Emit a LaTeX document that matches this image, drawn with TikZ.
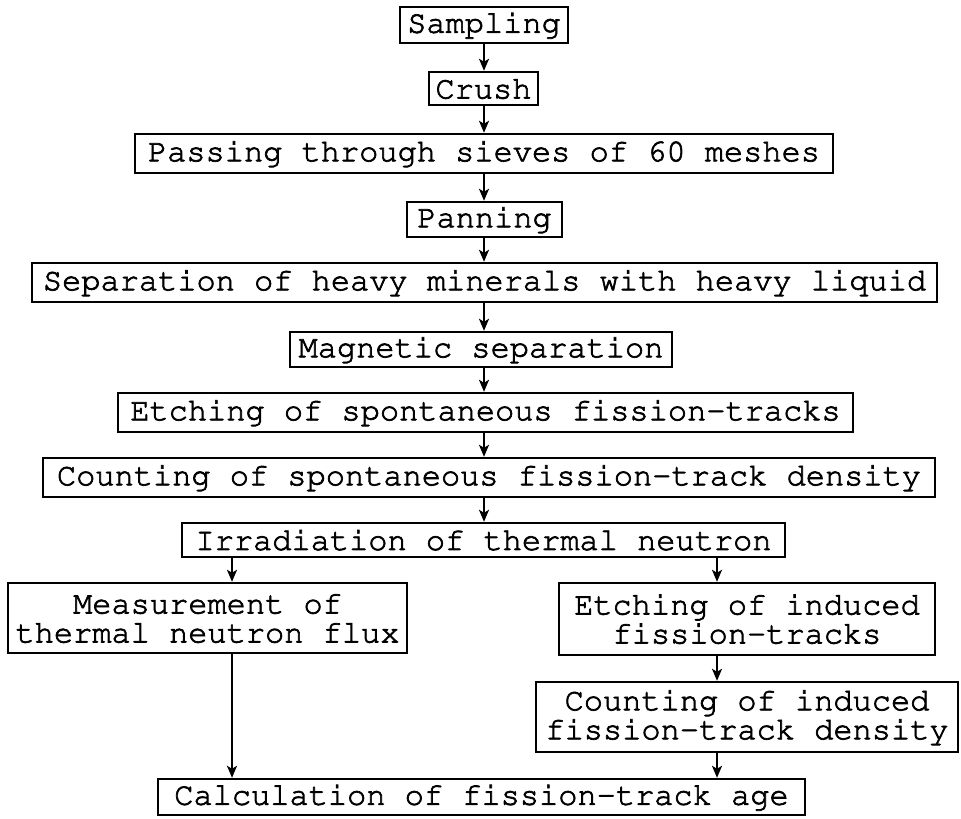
\documentclass[tikz,border=0pt]{standalone}
\usepackage[T1]{fontenc}
\usepackage{tikz}
\usetikzlibrary{arrows.meta}
\newcommand\heavytext{\special{pdf:literal direct 2 Tr 0.35 w}}

\begin{document}
\begin{tikzpicture}[x=0.5pt,y=-0.5pt,
  stepbox/.style={draw=black,line width=1.2pt,inner sep=0pt,align=center,
    font=\fontfamily{pcr}\fontsize{16}{14.5}\selectfont\heavytext},
  flow/.style={draw=black,line width=1.1pt,-{Stealth[length=6pt,width=5pt,inset=1.5pt]}}]
\useasboundingbox (0,0) rectangle (961,818);

\coordinate (lft) at (232,0);
\coordinate (rgt) at (717,0);

  \node[stepbox,minimum width=84pt,minimum height=18pt] (samp) at (484,25) {Sampling};
  \node[stepbox,minimum width=54.5pt,minimum height=16.5pt] (crush) at (483.5,88.5) {Crush};
  \node[stepbox,minimum width=349pt,minimum height=19.5pt] (sieve) at (484,153.5) {Passing through sieves of 60 meshes};
  \node[stepbox,minimum width=77.5pt,minimum height=17.5pt] (pan) at (484.5,219.5) {Panning};
  \node[stepbox,minimum width=452.5pt,minimum height=19.5pt] (heavy) at (484.5,282.5) {Separation of heavy minerals with heavy liquid};
  \node[stepbox,minimum width=191pt,minimum height=17.5pt] (magn) at (481,349.5) {Magnetic separation};
  \node[stepbox,minimum width=367.5pt,minimum height=19.5pt] (etchs) at (485.5,412.5) {Etching of spontaneous fission-tracks};
  \node[stepbox,minimum width=446pt,minimum height=19.5pt] (counts) at (489,477.5) {Counting of spontaneous fission-track density};
  \node[stepbox,minimum width=301.5pt,minimum height=17pt] (irrad) at (483.5,540) {Irradiation of thermal neutron};

  \node[stepbox,minimum width=199.5pt,minimum height=35pt] (flux) at (207.5,618) {Measurement of\\thermal neutron flux};
  \node[stepbox,minimum width=188pt,minimum height=36pt] (etchi) at (747,619) {Etching of induced\\fission-tracks};
  \node[stepbox,minimum width=211pt,minimum height=35pt] (counti) at (747,717) {Counting of induced\\fission-track density};

  \node[stepbox,minimum width=323.5pt,minimum height=18pt] (calc) at (481.5,797) {Calculation of fission-track age};

   \draw[flow] (samp.south) -- (samp.south |- crush.north);
   \draw[flow] (samp.south |- crush.south) -- (samp.south |- sieve.north);
   \draw[flow] (samp.south |- sieve.south) -- (samp.south |- pan.north);
   \draw[flow] (samp.south |- pan.south) -- (samp.south |- heavy.north);
   \draw[flow] (samp.south |- heavy.south) -- (samp.south |- magn.north);
   \draw[flow] (samp.south |- magn.south) -- (samp.south |- etchs.north);
   \draw[flow] (samp.south |- etchs.south) -- (samp.south |- counts.north);
   \draw[flow] (samp.south |- counts.south) -- (samp.south |- irrad.north);

   \draw[flow] (irrad.south -| lft) -- (flux.north -| lft);
   \draw[flow] (irrad.south -| rgt) -- (etchi.north -| rgt);
   \draw[flow] (etchi.south -| rgt) -- (counti.north -| rgt);
   \draw[flow] (counti.south -| rgt) -- (calc.north -| rgt);
   \draw[flow] (flux.south -| lft) -- (calc.north -| lft);
\end{tikzpicture}
\end{document}
